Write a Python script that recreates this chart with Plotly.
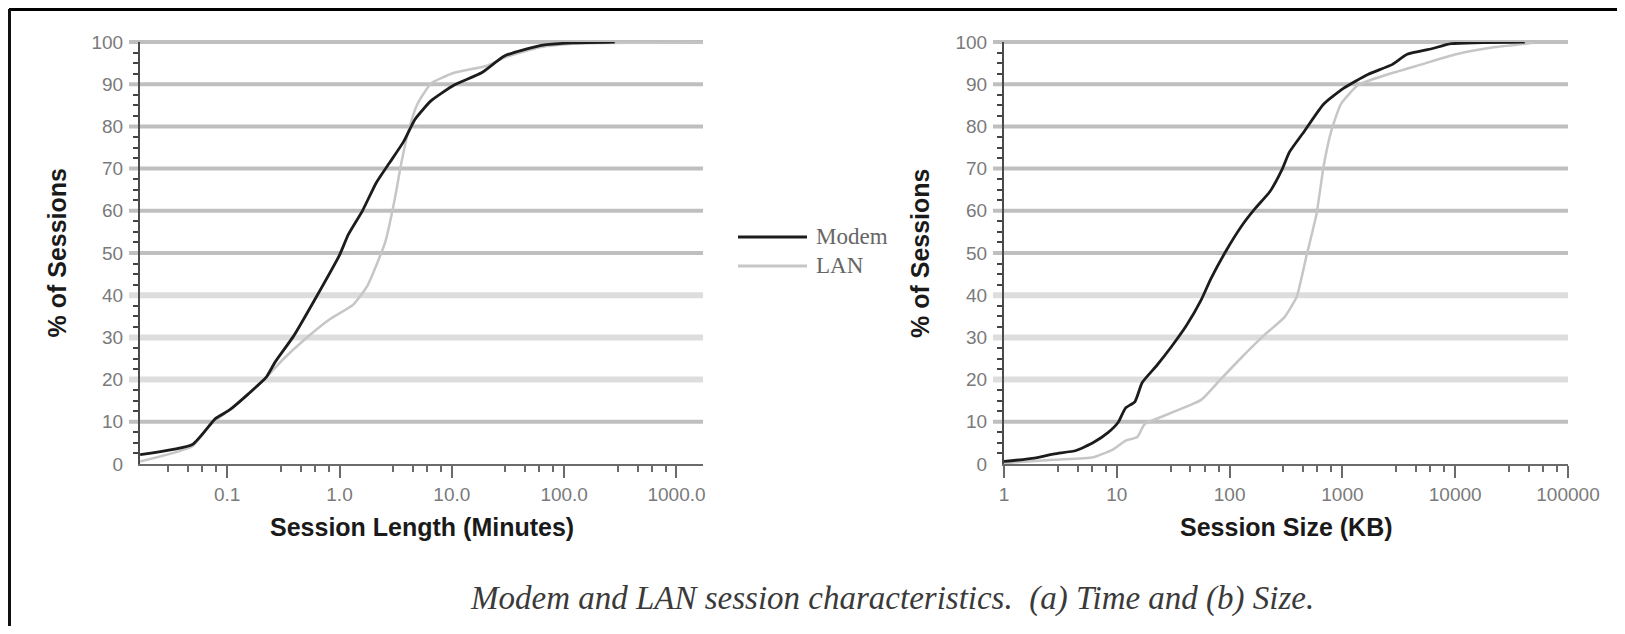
import plotly.graph_objects as go

# ---------------- data ----------------
# (a) Session length (minutes) vs cumulative % of sessions
len_modem_x = [0.0168, 0.049, 0.079, 0.105, 0.153, 0.222, 0.268, 0.39, 0.625, 1.0, 1.2, 1.6,
               2.12, 2.81, 3.72, 4.71, 6.55, 10.5, 18.4, 29.4, 62.5, 120, 282]
len_modem_y = [2.2, 4.6, 10.8, 12.8, 16.5, 20.5, 24.2, 30.3, 39.7, 49.5, 54.4, 60.0,
               66.6, 71.5, 76.4, 81.7, 86.1, 89.8, 92.7, 96.7, 99.2, 99.8, 100]

len_lan_x = [0.0168, 0.049, 0.072, 0.105, 0.222, 0.32, 0.47, 0.83, 1.32, 1.76, 2.12, 2.56,
             3.09, 3.56, 4.1, 4.94, 6.55, 10.5, 20.2, 29.4, 62.5, 120, 1700]
len_lan_y = [0.6, 4.2, 9.5, 12.8, 20.5, 25.0, 29.1, 34.4, 37.7, 42.1, 47.0, 52.7,
             62.5, 71.5, 78.8, 85.3, 90.2, 92.7, 94.3, 96.3, 98.8, 99.6, 100]

# (b) Session size (KB) vs cumulative % of sessions
size_modem_x = [1, 1.86, 2.8, 4.35, 6.2, 8.4, 10.3, 11.9, 14.5, 16.8, 22.7, 30.7, 41.4, 56,
                68, 92, 131, 168, 227, 292, 339, 458, 683, 1020, 1680, 2780, 3750, 6180,
                9230, 41400]
size_modem_y = [0.6, 1.4, 2.4, 3.2, 5.1, 7.5, 9.9, 13.2, 14.8, 19.3, 23.4, 27.9, 32.8, 38.9,
                43.8, 50.3, 56.8, 60.5, 64.5, 69.8, 73.9, 78.8, 85.3, 89.0, 92.3, 94.7, 97.1,
                98.4, 99.6, 100]

size_lan_x = [1, 2.8, 6.2, 9.2, 11.9, 15.2, 17.7, 25, 41.4, 56, 83.5, 125, 206, 307, 394,
              482, 589, 683, 795, 970, 1380, 2510, 5060, 10200, 22700, 50100]
size_lan_y = [0.2, 1.0, 1.6, 3.4, 5.5, 6.4, 9.5, 11.2, 13.6, 15.2, 20.1, 25.0, 30.7, 34.8,
              39.7, 49.5, 59.2, 70.7, 78.8, 85.3, 89.8, 92.3, 94.7, 97.1, 98.8, 99.8]

series_names = ["Modem", "LAN"]
len_ticks = [0.1, 1, 10, 100, 1000]
len_tick_text = ["0.1", "1.0", "10.0", "100.0", "1000.0"]
size_ticks = [1, 10, 100, 1000, 10000, 100000]
size_tick_text = ["1", "10", "100", "1000", "10000", "100000"]
minor_mults = [3, 4.5, 6, 8]
y_range = [0, 100]
grid_levels = [10, 20, 30, 40, 50, 60, 70, 80, 90, 100]
light_grid_levels = [20, 30, 40]

x_title_a = "Session Length (Minutes)"
x_title_b = "Session Size (KB)"
y_title = "% of Sessions"
caption = "Modem and LAN session characteristics.  (a) Time and (b) Size."

# ---------------- styles ----------------
PAGE_W, PAGE_H = 1625, 634
OFF = 8                      # default page margin around the figure
W, H = PAGE_W - 2 * OFF, PAGE_H - 2 * OFF
MODEM_C = "#1c1c1c"
LAN_C = "#c6c6c6"
TICK_FONT = dict(family="Liberation Sans, Arial, sans-serif", size=19, color="#7a7a7a")
TITLE_FONT = dict(family="Liberation Sans, Arial, sans-serif", size=25, color="#1a1a1a",
                  weight="bold")

def px_x(p):
    return (p - OFF) / W

def px_y(p):
    return 1 - (p - OFF) / H

dom_a = [px_x(140), px_x(703)]
dom_b = [px_x(1004), px_x(1568)]
dom_y = [px_y(464), px_y(42)]
GRID_EXT = 11 / W            # gridlines run a little left of the y axis

def level_to_paper(v):
    return dom_y[0] + (v - y_range[0]) / (y_range[1] - y_range[0]) * (dom_y[1] - dom_y[0])

fig = go.Figure()

for xs, ys, xa, ya in [(len_lan_x, len_lan_y, "x", "y"), (size_lan_x, size_lan_y, "x2", "y2")]:
    fig.add_trace(go.Scatter(x=xs, y=ys, xaxis=xa, yaxis=ya, mode="lines", name="LAN",
                             line=dict(color=LAN_C, width=2.5, shape="spline", smoothing=0.5),
                             showlegend=False, hoverinfo="skip"))
for xs, ys, xa, ya in [(len_modem_x, len_modem_y, "x", "y"), (size_modem_x, size_modem_y, "x2", "y2")]:
    fig.add_trace(go.Scatter(x=xs, y=ys, xaxis=xa, yaxis=ya, mode="lines", name="Modem",
                             line=dict(color=MODEM_C, width=2.8, shape="spline", smoothing=0.5),
                             showlegend=False, hoverinfo="skip"))

def minor_vals(ticks):
    vals = []
    t = ticks[0] / 10
    while t <= ticks[-1] * 10:
        vals += [t * m for m in minor_mults]
        t *= 10
    return vals

def xaxis_cfg(domain, rng, tv, tt):
    return dict(type="log", domain=domain, range=rng, automargin=False,
                showline=True, linecolor="#6a6a6a", linewidth=2,
                ticks="outside", ticklen=12, tickwidth=2, tickcolor="#6a6a6a",
                tickvals=tv, ticktext=tt, tickfont=TICK_FONT, showgrid=False, zeroline=False,
                minor=dict(tickvals=minor_vals(tv), ticks="outside", ticklen=6,
                           tickwidth=2, tickcolor="#6a6a6a", showgrid=False))

def yaxis_cfg():
    return dict(domain=dom_y, range=y_range, dtick=10, showgrid=False, automargin=False,
                zeroline=False, showline=True, linecolor="#4a4a4a", linewidth=2,
                ticks="outside", ticklen=11, tickwidth=1, tickcolor="rgba(0,0,0,0)",
                tickfont=TICK_FONT,
                minor=dict(dtick=2.5, ticks="outside", ticklen=5, tickwidth=2,
                           tickcolor="#444444", showgrid=False))

xa = xaxis_cfg(dom_a, [-1.776, 3.236], len_ticks, len_tick_text)
xa["anchor"] = "y"
xb = xaxis_cfg(dom_b, [0, 5], size_ticks, size_tick_text)
xb["anchor"] = "y2"
ya = yaxis_cfg(); ya["anchor"] = "x"
yb = yaxis_cfg(); yb["anchor"] = "x2"

shapes = []
# horizontal gridlines (unclipped, extending slightly left of the axis, like the original)
for dom in (dom_a, dom_b):
    for lv in grid_levels:
        light = lv in light_grid_levels
        yp = level_to_paper(lv)
        shapes.append(dict(type="line", xref="paper", yref="paper",
                           x0=dom[0] - GRID_EXT, x1=dom[1], y0=yp, y1=yp,
                           line=dict(color="#dddddd" if light else "#bfbfbf",
                                     width=6 if light else 4), layer="below"))
# frame
shapes.append(dict(type="line", xref="paper", yref="paper", x0=px_x(9), x1=1.0,
                   y0=px_y(9.5), y1=px_y(9.5), line=dict(color="#000", width=3)))
shapes.append(dict(type="line", xref="paper", yref="paper", x0=px_x(9.5), x1=px_x(9.5),
                   y0=px_y(9), y1=0, line=dict(color="#111", width=3)))
# legend swatches
for name, col, yy in [("Modem", MODEM_C, 237), ("LAN", LAN_C, 266)]:
    shapes.append(dict(type="line", xref="paper", yref="paper", x0=px_x(738), x1=px_x(807),
                       y0=px_y(yy), y1=px_y(yy), line=dict(color=col, width=3)))

annotations = []
for name, yy in [("Modem", 236), ("LAN", 265)]:
    annotations.append(dict(text=name, xref="paper", yref="paper", x=px_x(814), y=px_y(yy),
                            xanchor="left", yanchor="middle", showarrow=False,
                            font=dict(family="Liberation Serif, Times New Roman, serif",
                                      size=23, color="#666666")))
annotations.append(dict(text=x_title_a, xref="paper", yref="paper", x=sum(dom_a) / 2,
                        y=px_y(527), xanchor="center", yanchor="middle", showarrow=False,
                        font=TITLE_FONT))
annotations.append(dict(text=x_title_b, xref="paper", yref="paper", x=sum(dom_b) / 2,
                        y=px_y(527), xanchor="center", yanchor="middle", showarrow=False,
                        font=TITLE_FONT))
for cx in [56.5, 920]:
    annotations.append(dict(text=y_title, xref="paper", yref="paper", x=px_x(cx),
                            y=sum(dom_y) / 2, textangle=-90, xanchor="center",
                            yanchor="middle", showarrow=False, font=TITLE_FONT))
annotations.append(dict(text=caption, xref="paper", yref="paper", x=px_x(892), y=px_y(598),
                        xanchor="center", yanchor="middle", showarrow=False,
                        font=dict(family="Liberation Serif, Times New Roman, serif", size=33,
                                  color="#3a3a3a", style="italic")))

fig.update_layout(width=W, height=H, autosize=False,
                  margin=dict(l=0, r=0, t=0, b=0, pad=0, autoexpand=False),
                  paper_bgcolor="white", plot_bgcolor="rgba(0,0,0,0)", showlegend=False,
                  xaxis=xa, xaxis2=xb, yaxis=ya, yaxis2=yb,
                  shapes=shapes, annotations=annotations)

fig.write_html("out.html", config={"displayModeBar": False, "responsive": False})
